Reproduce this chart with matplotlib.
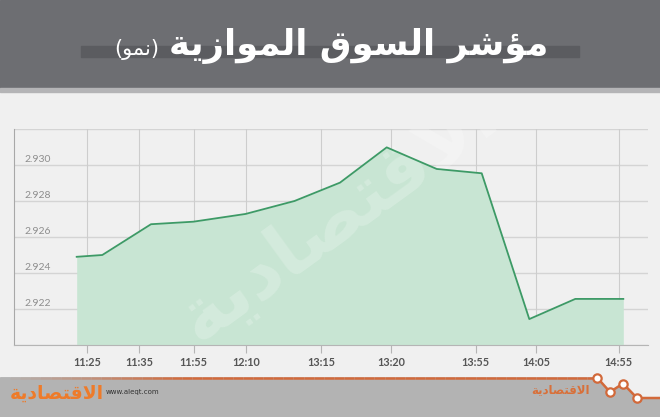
import numpy as np
import matplotlib
matplotlib.use('Agg')
import matplotlib.pyplot as plt
from matplotlib.patches import Rectangle, Polygon
from matplotlib.collections import LineCollection

# data
x_pos = [76.7, 102.3, 151, 193.3, 245.5, 294.5, 340, 386.7, 436.7, 481.7, 529.3, 575.3, 623.3]
values = [2.9249, 2.9250, 2.92671, 2.92685, 2.92728, 2.9280, 2.92902, 2.93098,
          2.92978, 2.92954, 2.92144, 2.92256, 2.92256]
tick_pos = [86.8, 139.2, 193.6, 246.4, 321.4, 391.4, 475.6, 536.3, 618.5]
tick_labels = ['11:25', '11:35', '11:55', '12:10', '13:15', '13:20', '13:55', '14:05', '14:55']
y_ticks = [2.922, 2.924, 2.926, 2.928, 2.930]

title = 'مؤشر السوق الموازية'
subtitle = 'نمو'
brand = 'الاقتصادية'

W, H = 660, 417


# --- simple Arabic shaping (presentation forms) + visual order ---
def _dual(b):
    return (b, b + 1, b + 2, b + 3)


def _right(b):
    return (b, b + 1, None, None)


FORMS = {
    'ء': (0xFE80, None, None, None), 'آ': _right(0xFE81), 'أ': _right(0xFE83),
    'ؤ': _right(0xFE85), 'إ': _right(0xFE87), 'ئ': _dual(0xFE89), 'ا': _right(0xFE8D),
    'ب': _dual(0xFE8F), 'ة': _right(0xFE93), 'ت': _dual(0xFE95), 'ث': _dual(0xFE99),
    'ج': _dual(0xFE9D), 'ح': _dual(0xFEA1), 'خ': _dual(0xFEA5), 'د': _right(0xFEA9),
    'ذ': _right(0xFEAB), 'ر': _right(0xFEAD), 'ز': _right(0xFEAF), 'س': _dual(0xFEB1),
    'ش': _dual(0xFEB5), 'ص': _dual(0xFEB9), 'ض': _dual(0xFEBD), 'ط': _dual(0xFEC1),
    'ظ': _dual(0xFEC5), 'ع': _dual(0xFEC9), 'غ': _dual(0xFECD), 'ف': _dual(0xFED1),
    'ق': _dual(0xFED5), 'ك': _dual(0xFED9), 'ل': _dual(0xFEDD), 'م': _dual(0xFEE1),
    'ن': _dual(0xFEE5), 'ه': _dual(0xFEE9), 'و': _right(0xFEED), 'ى': _right(0xFEEF),
    'ي': _dual(0xFEF1),
}
LAMALEF = {'آ': (0xFEF5, 0xFEF6), 'أ': (0xFEF7, 0xFEF8), 'إ': (0xFEF9, 0xFEFA), 'ا': (0xFEFB, 0xFEFC)}


def arabic(text):
    toks = []
    i = 0
    while i < len(text):
        c = text[i]
        if c == 'ل' and i + 1 < len(text) and text[i + 1] in LAMALEF:
            toks.append(('LA', text[i + 1]))
            i += 2
        else:
            toks.append(('C', c))
            i += 1

    def joins_next(t):
        return t[0] == 'C' and t[1] in FORMS and FORMS[t[1]][2] is not None

    def joins_prev(t):
        return t[0] == 'LA' or (t[1] in FORMS and FORMS[t[1]][1] is not None)

    out = []
    for k, t in enumerate(toks):
        p = k > 0 and joins_next(toks[k - 1]) and joins_prev(t)
        n = k + 1 < len(toks) and joins_next(t) and joins_prev(toks[k + 1])
        if t[0] == 'LA':
            out.append(chr(LAMALEF[t[1]][1 if p else 0]))
        elif t[1] in FORMS:
            f = FORMS[t[1]]
            if p and n:
                code = f[3]
            elif p:
                code = f[1]
            elif n:
                code = f[2]
            else:
                code = f[0]
            out.append(chr(code))
        else:
            out.append(t[1])
    return ''.join(reversed(out))


def px(x, y):
    return x / W, 1 - y / H


fig = plt.figure(figsize=(6.6, 4.17), dpi=100, facecolor='#f0f0f0')

# header
fig.patches.append(Rectangle(px(0, 88), 1, 88 / H, transform=fig.transFigure,
                             color='#6d6e72', zorder=0))
fig.patches.append(Rectangle(px(0, 92), 1, 4 / H, transform=fig.transFigure,
                             color='#b4b4b6', zorder=0))
fig.patches.append(Rectangle(px(81, 57), (579 - 81) / W, 11 / H, transform=fig.transFigure,
                             color='#5b5c60', zorder=1))
fig.text(*px(548, 46), arabic(title), ha='right', va='center', color='white',
         fontsize=25.5, fontweight='bold', family='DejaVu Sans', zorder=3)
fig.text(*px(159, 50), '(' + arabic(subtitle) + ')', ha='right', va='center',
         color='white', fontsize=15, family='DejaVu Sans', zorder=3)

# chart
ax = fig.add_axes([14 / W, (H - 345) / H, 634 / W, 216 / H])
ax.set_facecolor('#f0f0f0')
ax.set_xlim(14, 648)
ax.set_ylim(2.920, 2.932)

for yv in np.arange(2.920, 2.9321, 0.002):
    ax.axhline(yv, color='#d4d4d4', lw=1, zorder=1)
for xv in tick_pos:
    ax.axvline(xv, color='#cdcdcd', lw=0.8, zorder=1)

ax.fill_between(x_pos, 2.920, values, color='#c8e5d3', lw=0, zorder=2)
ax.plot(x_pos, values, color='#3d9a66', lw=1.3, zorder=4)

ax.text(338, 2.9271, arabic(brand), rotation=36, ha='center', va='center',
        fontsize=54, fontweight='bold', color='white', alpha=0.22,
        family='DejaVu Sans', zorder=3, clip_on=True)

for yv in y_ticks:
    ax.text(24, yv + 0.00028, f'{yv:.3f}', ha='left', va='center',
            fontsize=7.5, color='#8e8e8e', family='Lato')

ax.set_xticks(tick_pos)
ax.set_xticklabels(tick_labels, fontsize=7.8, fontweight='bold', color='#555555', family='Lato')
ax.tick_params(axis='x', length=6, color='#b5b5b5', width=0.8, pad=3)
ax.set_yticks([])
for s in ['top', 'right']:
    ax.spines[s].set_visible(False)
ax.spines['bottom'].set_color('#b5b5b5')
ax.spines['left'].set_color('#a8a8a8')
ax.spines['left'].set_bounds(2.920, 2.932)

# footer
zig = [(0, 377.5), (597, 377.5), (610, 392), (623, 383.5), (637, 398), (660, 398)]
foot = [px(x, y + 0.5) for x, y in zig] + [px(660, 417), px(0, 417)]
fig.patches.append(Polygon(foot, closed=True, transform=fig.transFigure,
                           color='#b3b3b3', zorder=0))
xs = np.linspace(0, 597, 60)
segs = [[px(a, 377.5), px(b, 377.5)] for a, b in zip(xs[:-1], xs[1:])]
orange = np.array(matplotlib.colors.to_rgb('#d2693a'))
grey = np.array(matplotlib.colors.to_rgb('#b3b3b3'))
cols = [grey + (orange - grey) * min(1, a / 180) for a in xs[:-1]]
fig.add_artist(LineCollection(segs, colors=cols, lw=1.8, transform=fig.transFigure))
zx = [p[0] for p in zig[1:]]
zy = [p[1] for p in zig[1:]]
fig.add_artist(plt.Line2D([x / W for x in zx], [1 - y / H for y in zy],
                          transform=fig.transFigure, color='#d2693a', lw=1.8))
fig.add_artist(plt.Line2D([x / W for x in zx[:4]], [1 - y / H for y in zy[:4]],
                          transform=fig.transFigure, ls='none', marker='o', ms=6,
                          mfc='white', mec='#d2693a', mew=1.6))

fig.text(*px(106, 392), 'www.aleqt.com', ha='left', va='center', fontsize=5,
         color='#333333', zorder=2)
fig.text(*px(104, 393), arabic(brand), ha='right', va='center', fontsize=13.5,
         fontweight='bold', color='#ee7b2a', family='DejaVu Sans', zorder=3)
fig.text(*px(590, 390), arabic(brand), ha='right', va='center', fontsize=8.5,
         fontweight='bold', color='#d8703a', family='DejaVu Sans', zorder=3)

fig.savefig('out.png', dpi=100, facecolor=fig.get_facecolor())
